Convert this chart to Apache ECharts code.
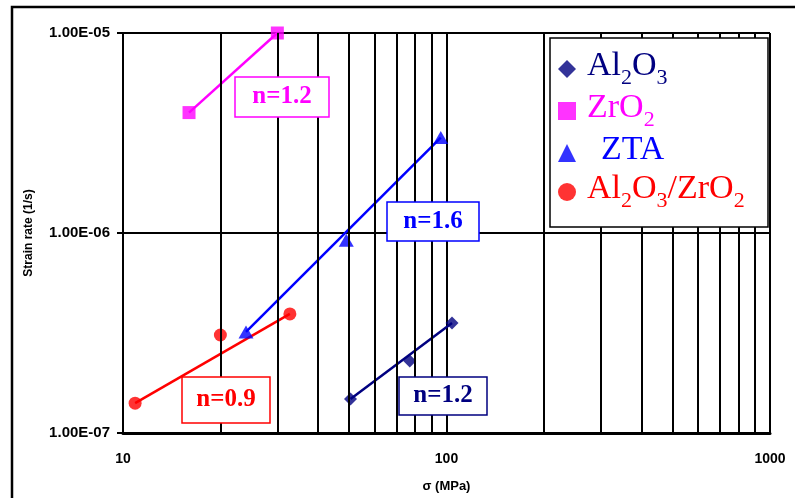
<!DOCTYPE html>
<html><head><meta charset="utf-8">
<script src="https://cdn.jsdelivr.net/npm/echarts@6/dist/echarts.min.js"></script>
<style>html,body{margin:0;padding:0;background:#fff}#c{width:795px;height:498px}</style>
</head><body><div id="c"></div><script>
// ---- data ----
const seriesNames = ['Al2O3', 'ZrO2', 'ZTA', 'Al2O3/ZrO2'];
const seriesColors = ['#000080', '#FF00FF', '#0000FF', '#FF0000'];
const seriesSymbols = ['diamond', 'rect', 'triangle', 'circle'];

const al2o3Stress = [50.5, 77, 104];
const al2o3Rate   = [1.48e-7, 2.29e-7, 3.55e-7];

const zro2Stress = [16, 30];
const zro2Rate   = [4.0e-6, 1.0e-5];

const ztaStress = [24, 49, 96];
const ztaRate   = [3.2e-7, 9.2e-7, 3.0e-6];

const compStress = [10.9, 20, 32.8];
const compRate   = [1.41e-7, 3.09e-7, 3.94e-7];

const slopeLabels = ['n=1.2', 'n=1.2', 'n=1.6', 'n=0.9'];

const xMinorGrid = [20, 30, 40, 50, 60, 70, 80, 90, 200, 300, 400, 500, 600, 700, 800, 900];
const xAxisMin = 10, xAxisMax = 1000;
const yAxisMin = 1e-7, yAxisMax = 1e-5;

const xAxisTitle = 'σ (MPa)';
const yAxisTitle = 'Strain rate (1/s)';

// ---- build ----
const stressSets = [al2o3Stress, zro2Stress, ztaStress, compStress];
const rateSets = [al2o3Rate, zro2Rate, ztaRate, compRate];

function sci(v) {
  const e = Math.round(Math.log10(v));
  const m = v / Math.pow(10, e);
  return m.toFixed(2) + 'E' + (e < 0 ? '-' : '+') + String(Math.abs(e)).padStart(2, '0');
}

const serif = '"Liberation Serif", "Times New Roman", serif';
const sans = '"Liberation Sans", Arial, sans-serif';

const rich = { gap: { width: 6 }, gapWide: { width: 20 } };
seriesColors.forEach((c, i) => {
  rich['t' + i] = { fontFamily: serif, fontSize: 34, color: c, lineHeight: 40, verticalAlign: 'top' };
  rich['s' + i] = { fontFamily: serif, fontSize: 22, color: c, lineHeight: 4, verticalAlign: 'bottom' };
});

function legendText(name) {
  const i = seriesNames.indexOf(name);
  let out = seriesSymbols[i] === 'triangle' ? '{gapWide|}' : '{gap|}';
  name.replace(/(\d+)|(\D+)/g, (m, d, t) => {
    out += d ? '{s' + i + '|' + d + '}' : '{t' + i + '|' + t + '}';
    return m;
  });
  return out;
}

const series = [];
// gridlines for intermediate decades
series.push({
  type: 'line', name: '_grid', data: [], silent: true, z: 1,
  markLine: {
    silent: true, symbol: ['none', 'none'], label: { show: false },
    lineStyle: { color: '#000', width: 2, type: 'solid' },
    data: xMinorGrid.map(v => ({ xAxis: v }))
  }
});
stressSets.forEach((xs, i) => {
  const pts = xs.map((x, j) => [x, rateSets[i][j]]);
  series.push({
    type: 'line', name: seriesNames[i] + ' trend', z: 3, silent: true,
    data: [pts[0], pts[pts.length - 1]],
    showSymbol: false, symbol: 'none',
    lineStyle: { color: seriesColors[i], width: 2.5 }
  });
});
stressSets.forEach((xs, i) => {
  series.push({
    type: 'scatter', name: seriesNames[i], z: 4,
    data: xs.map((x, j) => [x, rateSets[i][j]]),
    symbol: seriesSymbols[i],
    symbolSize: seriesSymbols[i] === 'triangle' ? [15, 13] : 13,
    itemStyle: { color: seriesColors[i] }
  });
});

const slopeBoxes = [
  { i: 1, x: 235, y: 77, w: 94, h: 40 },
  { i: 2, x: 387, y: 202, w: 92, h: 39 },
  { i: 3, x: 182, y: 377, w: 88, h: 46 },
  { i: 0, x: 399, y: 377, w: 88, h: 38 }
];

const graphic = [
  { type: 'rect', z: 0, shape: { x: 12, y: 7, width: 800, height: 600 },
    style: { fill: 'none', stroke: '#000', lineWidth: 2.5 } },
  { type: 'rect', z: 10, shape: { x: 550, y: 38, width: 218, height: 189 },
    style: { fill: '#fff', stroke: '#000', lineWidth: 1.5 } }
];
slopeBoxes.forEach(b => {
  graphic.push({ type: 'rect', z: 10, shape: { x: b.x, y: b.y, width: b.w, height: b.h },
    style: { fill: '#fff', stroke: seriesColors[b.i], lineWidth: 1.5 } });
  graphic.push({ type: 'text', z: 11, x: b.x + b.w / 2, y: b.y + b.h / 2,
    style: { text: slopeLabels[b.i], fill: seriesColors[b.i], font: 'bold 25px ' + serif,
      align: 'center', verticalAlign: 'middle' } });
});

const chart = echarts.init(document.getElementById('c'), null, { renderer: 'canvas' });
chart.setOption({
  animation: false,
  backgroundColor: '#fff',
  grid: { left: 123, right: 25, top: 33, bottom: 65, containLabel: false },
  xAxis: {
    type: 'log', logBase: 10, min: xAxisMin, max: xAxisMax,
    name: xAxisTitle, nameLocation: 'middle', nameGap: 47,
    nameTextStyle: { fontFamily: sans, fontWeight: 'bold', fontSize: 13, color: '#000' },
    axisLine: { show: true, lineStyle: { color: '#000', width: 3 } },
    axisTick: { show: false },
    axisLabel: { color: '#000', fontFamily: sans, fontWeight: 'bold', fontSize: 14, margin: 19,
      formatter: v => String(Math.round(v)) },
    splitLine: { show: true, lineStyle: { color: '#000', width: 2 } },
    minorTick: { show: false }, minorSplitLine: { show: false }
  },
  yAxis: {
    type: 'log', logBase: 10, min: yAxisMin, max: yAxisMax,
    name: yAxisTitle, nameLocation: 'middle', nameGap: 88,
    nameTextStyle: { fontFamily: sans, fontWeight: 'bold', fontSize: 12, color: '#000' },
    axisLine: { show: true, lineStyle: { color: '#000', width: 2 } },
    axisTick: { show: true, inside: false, length: 6, lineStyle: { color: '#000', width: 2 } },
    axisLabel: { color: '#000', fontFamily: sans, fontWeight: 'bold', fontSize: 15, margin: 13,
      formatter: v => sci(v) },
    splitLine: { show: true, lineStyle: { color: '#000', width: 2 } }
  },
  legend: {
    show: true, orient: 'vertical', left: 558, top: 49, z: 12,
    padding: 0, itemGap: 2, itemWidth: 18, itemHeight: 18,
    selectedMode: false,
    data: seriesNames.map((n, i) => ({ name: n, icon: seriesSymbols[i] })),
    formatter: legendText,
    textStyle: { rich: rich, fontFamily: serif, fontSize: 34 }
  },
  graphic: graphic,
  series: series
});
</script></body></html>
